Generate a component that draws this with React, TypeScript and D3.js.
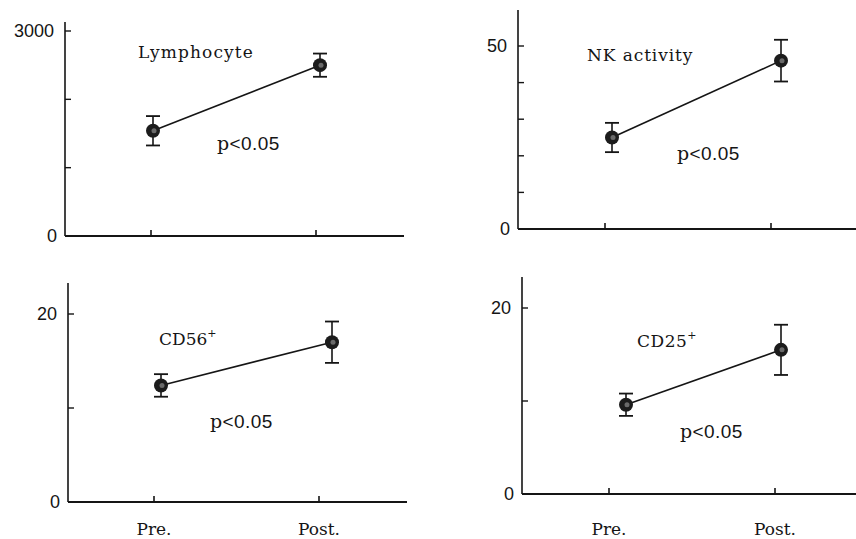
import React, { useEffect, useRef } from 'react';
import * as d3 from 'd3';

// conditions on the x axis
const conditions = ['Pre.', 'Post.'];

// mean and error (SE) per panel
const lymphocyteMean = [1540, 2500];
const lymphocyteErr = [215, 170];

const nkMean = [25, 46];
const nkErr = [4, 5.7];

const cd56Mean = [12.4, 17];
const cd56Err = [1.2, 2.2];

const cd25Mean = [9.6, 15.5];
const cd25Err = [1.2, 2.7];

const pLabel = 'p<0.05';

// axis ticks per panel (labelled ones are only the ends)
const lymphocyteTicks = [0, 1000, 2000, 3000];
const nkTicks = [0, 10, 20, 30, 40, 50];
const cd56Ticks = [0, 10, 20];
const cd25Ticks = [0, 10, 20];

const panels = [
  {
    title: 'Lymphocyte', sup: '', mean: lymphocyteMean, err: lymphocyteErr, ticks: lymphocyteTicks,
    axisX: 65, axisTop: 22, y0: 236, yMax: 31, xEnd: 404,
    tickX: [151, 316], dotX: [153, 320],
    titlePos: [138, 58], pPos: [217, 150], showX: false, spacing: 1.1,
  },
  {
    title: 'NK activity', sup: '', mean: nkMean, err: nkErr, ticks: nkTicks,
    axisX: 518, axisTop: 10, y0: 229, yMax: 46, xEnd: 856,
    tickX: [605, 771], dotX: [612, 781],
    titlePos: [587, 61], pPos: [677, 160], showX: false, spacing: 0.9,
  },
  {
    title: 'CD56', sup: '+', mean: cd56Mean, err: cd56Err, ticks: cd56Ticks,
    axisX: 68, axisTop: 283, y0: 502, yMax: 314, xEnd: 407,
    tickX: [154, 319], dotX: [161, 332],
    titlePos: [159, 345], pPos: [210, 428], showX: true, spacing: 0,
  },
  {
    title: 'CD25', sup: '+', mean: cd25Mean, err: cd25Err, ticks: cd25Ticks,
    axisX: 522, axisTop: 277, y0: 494, yMax: 308, xEnd: 856,
    tickX: [609, 775], dotX: [626, 781],
    titlePos: [637, 347], pPos: [680, 438], showX: true, spacing: 0.5,
  },
];

const ink = '#151515';
const serif = '"DejaVu Serif", "Liberation Serif", serif';
const sans = '"Liberation Sans", Arial, sans-serif';

const App = () => {
  const svgRef = useRef<SVGSVGElement>(null);

  useEffect(() => {
    const svg = d3.select(svgRef.current);
    svg.selectAll('*').remove();

    panels.forEach(p => {
      const g = svg.append('g');
      const maxTick = d3.max(p.ticks) as number;

      const y = d3.scaleLinear().domain([0, maxTick]).range([p.y0, p.yMax]);
      const xTick = d3.scalePoint<string>().domain(conditions).range(p.tickX as [number, number]);
      const xDot = d3.scalePoint<string>().domain(conditions).range(p.dotX as [number, number]);

      // y axis line
      g.append('line')
        .attr('x1', p.axisX).attr('x2', p.axisX)
        .attr('y1', p.axisTop).attr('y2', p.y0)
        .attr('stroke', ink).attr('stroke-width', 1.6);

      // y ticks, inward
      g.selectAll('.ytick')
        .data(p.ticks.filter(t => t !== 0))
        .enter()
        .append('line')
        .attr('x1', p.axisX).attr('x2', p.axisX + 6)
        .attr('y1', d => y(d)).attr('y2', d => y(d))
        .attr('stroke', ink).attr('stroke-width', 1.4);

      // y tick labels at 0 and max
      g.selectAll('.ylab')
        .data([0, maxTick])
        .enter()
        .append('text')
        .attr('x', d => p.axisX - (d === 0 ? 8 : 11))
        .attr('y', d => y(d))
        .attr('dy', '0.36em')
        .attr('text-anchor', 'end')
        .style('font-family', sans)
        .style('font-size', '18px')
        .attr('fill', ink)
        .text(d => String(d));

      // x axis line
      g.append('line')
        .attr('x1', p.axisX).attr('x2', p.xEnd)
        .attr('y1', p.y0).attr('y2', p.y0)
        .attr('stroke', ink).attr('stroke-width', 2);

      // x ticks, upward
      g.selectAll('.xtick')
        .data(conditions)
        .enter()
        .append('line')
        .attr('x1', d => xTick(d) as number).attr('x2', d => xTick(d) as number)
        .attr('y1', p.y0).attr('y2', p.y0 - 6)
        .attr('stroke', ink).attr('stroke-width', 1.6);

      if (p.showX) {
        g.selectAll('.xlab')
          .data(conditions)
          .enter()
          .append('text')
          .attr('x', d => xTick(d) as number)
          .attr('y', 535)
          .attr('text-anchor', 'middle')
          .style('font-family', serif)
          .style('font-size', '17px')
          .attr('fill', ink)
          .text(d => d);
      }

      const pts = conditions.map((c, i) => ({ c, m: p.mean[i], e: p.err[i] }));

      // connecting line
      g.append('path')
        .datum(pts)
        .attr('fill', 'none')
        .attr('stroke', ink)
        .attr('stroke-width', 1.6)
        .attr('d', d3.line<any>().x(d => xDot(d.c) as number).y(d => y(d.m)));

      // error bars
      const eb = g.selectAll('.eb').data(pts).enter().append('g');
      eb.append('line')
        .attr('x1', d => xDot(d.c) as number).attr('x2', d => xDot(d.c) as number)
        .attr('y1', d => y(d.m - d.e)).attr('y2', d => y(d.m + d.e))
        .attr('stroke', ink).attr('stroke-width', 1.6);
      [1, -1].forEach(s => {
        eb.append('line')
          .attr('x1', d => (xDot(d.c) as number) - 7).attr('x2', d => (xDot(d.c) as number) + 7)
          .attr('y1', d => y(d.m + s * d.e)).attr('y2', d => y(d.m + s * d.e))
          .attr('stroke', ink).attr('stroke-width', 1.8);
      });

      // dots
      eb.append('circle')
        .attr('cx', d => xDot(d.c) as number)
        .attr('cy', d => y(d.m))
        .attr('r', 7)
        .attr('fill', '#1c1c1c');
      eb.append('circle')
        .attr('cx', d => (xDot(d.c) as number) + 1)
        .attr('cy', d => y(d.m))
        .attr('r', 2.5)
        .attr('fill', '#6a6a6a');

      // panel title
      const t = g.append('text')
        .attr('x', p.titlePos[0])
        .attr('y', p.titlePos[1])
        .style('font-family', serif)
        .style('font-size', '17px')
        .style('letter-spacing', `${p.spacing}px`)
        .attr('fill', ink)
        .text(p.title);
      if (p.sup) {
        t.append('tspan')
          .attr('dy', -8)
          .style('font-size', '11px')
          .text(p.sup);
      }

      // significance
      const pt = g.append('text')
        .attr('x', p.pPos[0])
        .attr('y', p.pPos[1])
        .style('font-size', '19px')
        .style('letter-spacing', '0.4px')
        .attr('fill', ink);
      pt.append('tspan').style('font-family', serif).text(pLabel.slice(0, 1));
      pt.append('tspan').style('font-family', sans).text(pLabel.slice(1));
    });
  }, []);

  return (
    <svg
      ref={svgRef}
      width={856}
      height={539}
      style={{ position: 'absolute', left: 0, top: 0, background: '#fff' }}
    />
  );
};

export default App;
